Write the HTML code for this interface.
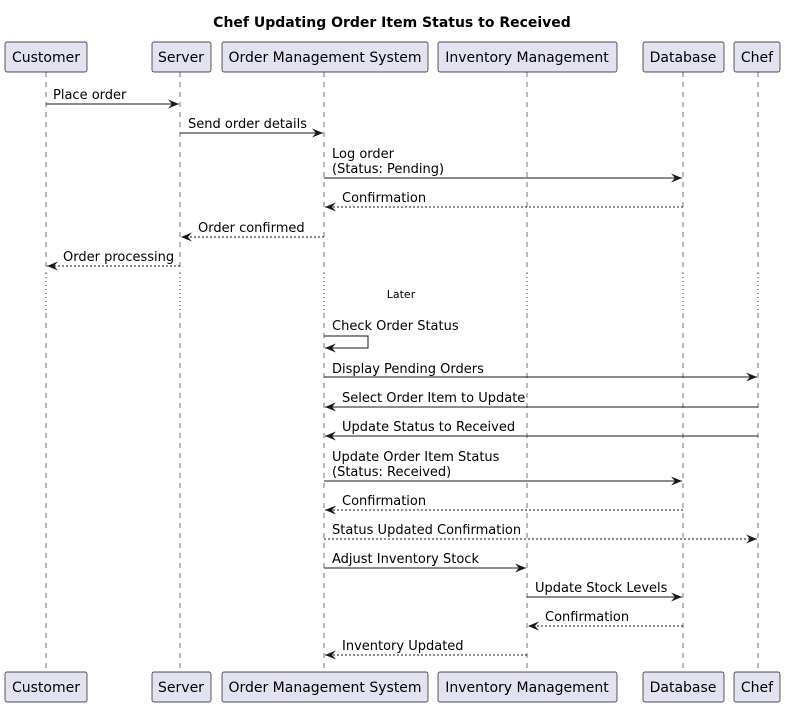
<!DOCTYPE html>
<html><head><meta charset="utf-8"><style>
html,body{margin:0;padding:0;background:#fff;}
svg{display:block;font-family:"DejaVu Sans","Liberation Sans",sans-serif;}
</style></head><body>
<svg width="785" height="707" viewBox="0 0 785 707" xmlns="http://www.w3.org/2000/svg">
<defs>
<marker id="a" markerWidth="12" markerHeight="10" refX="11" refY="5" orient="auto" markerUnits="userSpaceOnUse">
<polygon points="0,0.5 11,5 0,9.5 4,5" fill="#181818"/>
</marker>
</defs>
<text x="392" y="27" text-anchor="middle" font-size="14" font-weight="bold" fill="#000">Chef Updating Order Item Status to Received</text>
<g stroke="#181818" stroke-width="0.6" stroke-dasharray="5,5">
<line x1="46" y1="72" x2="46" y2="273"/><line x1="46" y1="313" x2="46" y2="672"/>
<line x1="180" y1="72" x2="180" y2="273"/><line x1="180" y1="313" x2="180" y2="672"/>
<line x1="324" y1="72" x2="324" y2="273"/><line x1="324" y1="313" x2="324" y2="672"/>
<line x1="527" y1="72" x2="527" y2="273"/><line x1="527" y1="313" x2="527" y2="672"/>
<line x1="683" y1="72" x2="683" y2="273"/><line x1="683" y1="313" x2="683" y2="672"/>
<line x1="758" y1="72" x2="758" y2="273"/><line x1="758" y1="313" x2="758" y2="672"/>
</g>
<g stroke="#A80036" stroke-width="1" stroke-dasharray="1,3">
<line x1="46" y1="273" x2="46" y2="313"/><line x1="180" y1="273" x2="180" y2="313"/>
<line x1="324" y1="273" x2="324" y2="313"/><line x1="527" y1="273" x2="527" y2="313"/>
<line x1="683" y1="273" x2="683" y2="313"/><line x1="758" y1="273" x2="758" y2="313"/>
</g>
<text x="401" y="298" text-anchor="middle" font-size="11">Later</text>
<g fill="#E2E2F0" stroke="#181818" stroke-width="0.7">
<rect x="5" y="42" width="82" height="30" rx="2"/><rect x="152" y="42" width="59" height="30" rx="2"/>
<rect x="222" y="42" width="206" height="30" rx="2"/><rect x="438" y="42" width="179" height="30" rx="2"/>
<rect x="643" y="42" width="81" height="30" rx="2"/><rect x="734" y="42" width="46" height="30" rx="2"/>
<rect x="5" y="672" width="82" height="30" rx="2"/><rect x="152" y="672" width="59" height="30" rx="2"/>
<rect x="222" y="672" width="206" height="30" rx="2"/><rect x="438" y="672" width="179" height="30" rx="2"/>
<rect x="643" y="672" width="81" height="30" rx="2"/><rect x="734" y="672" width="46" height="30" rx="2"/>
</g>
<g font-size="14" text-anchor="middle" fill="#000">
<text x="46" y="62">Customer</text><text x="181" y="62">Server</text><text x="325" y="62">Order Management System</text>
<text x="527" y="62">Inventory Management</text><text x="683" y="62">Database</text><text x="757" y="62">Chef</text>
<text x="46" y="692">Customer</text><text x="181" y="692">Server</text><text x="325" y="692">Order Management System</text>
<text x="527" y="692">Inventory Management</text><text x="683" y="692">Database</text><text x="757" y="692">Chef</text>
</g>
<g stroke="#181818" stroke-width="1" fill="none" marker-end="url(#a)">
<line x1="46" y1="104" x2="179" y2="104"/>
<line x1="180" y1="133" x2="323" y2="133"/>
<line x1="324" y1="178" x2="682" y2="178"/>
<line x1="683" y1="207" x2="325" y2="207" stroke-dasharray="2,2"/>
<line x1="324" y1="237" x2="181" y2="237" stroke-dasharray="2,2"/>
<line x1="180" y1="266" x2="47" y2="266" stroke-dasharray="2,2"/>
<polyline points="324,336 368,336 368,348 325,348"/>
<line x1="324" y1="377" x2="757" y2="377"/>
<line x1="758" y1="407" x2="325" y2="407"/>
<line x1="758" y1="436" x2="325" y2="436"/>
<line x1="324" y1="481" x2="682" y2="481"/>
<line x1="683" y1="510" x2="325" y2="510" stroke-dasharray="2,2"/>
<line x1="324" y1="539" x2="757" y2="539" stroke-dasharray="2,2"/>
<line x1="324" y1="568" x2="526" y2="568"/>
<line x1="527" y1="597" x2="682" y2="597"/>
<line x1="683" y1="626" x2="528" y2="626" stroke-dasharray="2,2"/>
<line x1="527" y1="655" x2="325" y2="655" stroke-dasharray="2,2"/>
</g>
<g font-size="13" fill="#000">
<text x="53" y="99">Place order</text>
<text x="188" y="128">Send order details</text>
<text x="332" y="158">Log order</text><text x="332" y="173">(Status: Pending)</text>
<text x="342" y="202">Confirmation</text>
<text x="198" y="232">Order confirmed</text>
<text x="63" y="261">Order processing</text>
<text x="332" y="330">Check Order Status</text>
<text x="332" y="373">Display Pending Orders</text>
<text x="342" y="402">Select Order Item to Update</text>
<text x="342" y="431">Update Status to Received</text>
<text x="332" y="461">Update Order Item Status</text><text x="332" y="476">(Status: Received)</text>
<text x="342" y="505">Confirmation</text>
<text x="332" y="534">Status Updated Confirmation</text>
<text x="332" y="563">Adjust Inventory Stock</text>
<text x="535" y="592">Update Stock Levels</text>
<text x="545" y="621">Confirmation</text>
<text x="342" y="650">Inventory Updated</text>
</g>
</svg>
</body></html>
